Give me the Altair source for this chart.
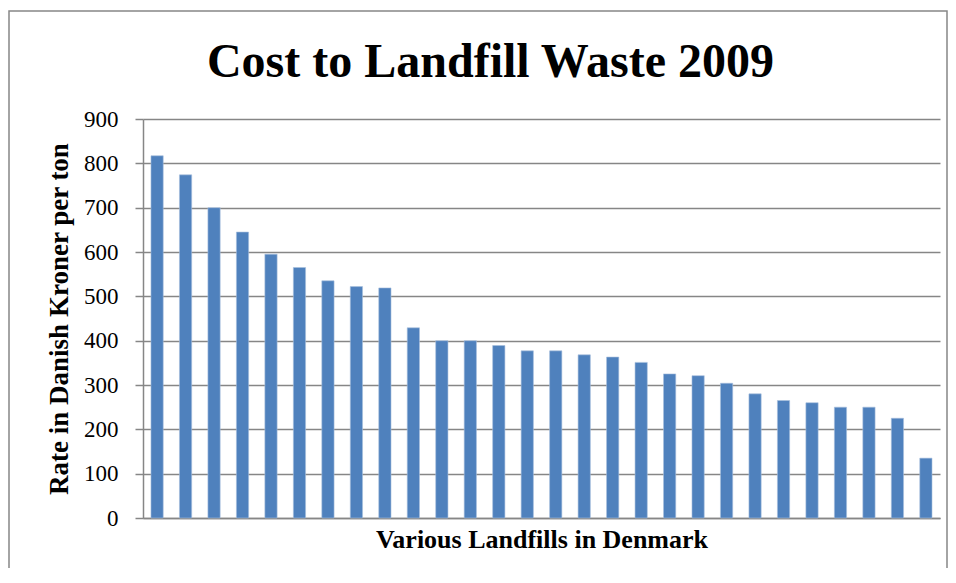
import altair as alt
import pandas as pd

landfills = [f"Landfill {i}" for i in range(1, 29)]
cost = [817, 774, 700, 645, 595, 565, 535, 522, 519, 429, 400, 400, 389, 377,
        377, 368, 363, 351, 325, 321, 304, 280, 265, 260, 250, 250, 225, 135]
y_ticks = [0, 100, 200, 300, 400, 500, 600, 700, 800, 900]

df = pd.DataFrame({"landfill": landfills, "cost": cost})

SERIF = "Liberation Serif"

bars = alt.Chart(df).mark_bar(color="#4F81BD", stroke="#A7BFDE", strokeWidth=0.6).encode(
    x=alt.X("landfill:N", sort=None,
            scale=alt.Scale(paddingInner=0.57, paddingOuter=0.28),
            axis=alt.Axis(labels=False, ticks=False, title="Various Landfills in Denmark",
                          titleFont=SERIF, titleFontSize=26, titleFontWeight="bold",
                          titleColor="black", titlePadding=8,
                          domainColor="#868686", domainWidth=1.5, grid=False)),
    y=alt.Y("cost:Q", scale=alt.Scale(domain=[0, 900], nice=False),
            axis=alt.Axis(values=y_ticks, title="Rate in Danish Kroner per ton",
                          titleFont=SERIF, titleFontSize=27, titleFontWeight="bold",
                          titleColor="black", titleX=-84, titleBaseline="middle",
                          labelFont=SERIF, labelFontSize=23, labelColor="black",
                          labelPadding=17, tickSize=8, tickColor="#868686", tickWidth=1.5,
                          domainColor="#868686", domainWidth=1.5,
                          grid=True, gridColor="#868686", gridWidth=1.5)),
)

border_df = pd.DataFrame({"k": [0]})
border = alt.Chart(border_df).mark_rect(fill=None, stroke="#878787", strokeWidth=1.5).encode(
    x=alt.value(-134), x2=alt.value(804), y=alt.value(-108), y2=alt.value(470)
)

chart = alt.layer(border, bars).properties(
    width=797, height=399,
    autosize=alt.AutoSizeParams(type="none"),
    padding={"left": 135, "top": 111, "right": 8, "bottom": 50},
    title=alt.TitleParams("Cost to Landfill Waste 2009", font=SERIF, fontSize=48,
                          fontWeight="bold", color="black", anchor="middle",
                          dx=-51, offset=0, dy=115, baseline="alphabetic"),
).configure_view(stroke=None)

chart.save("out.html", embed_options={"renderer": "svg", "actions": False})
